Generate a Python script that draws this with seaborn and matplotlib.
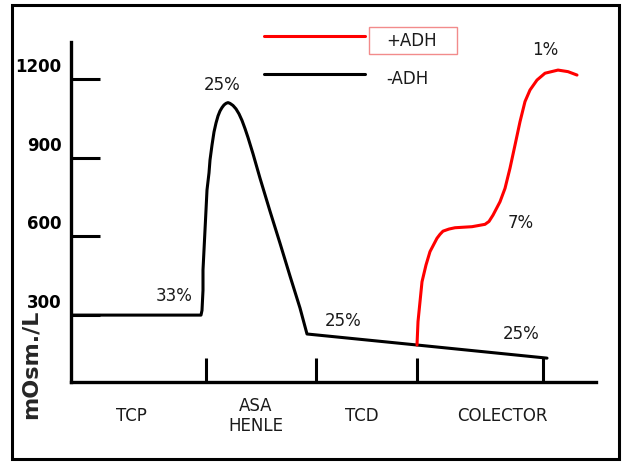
import matplotlib.pyplot as plt
import seaborn as sns
from matplotlib.patches import Rectangle
from matplotlib.transforms import ScaledTranslation

# osmolarity (mOsm/L) along the nephron, x = position along the tubule
minus_adh_x = [0, 130, 131, 132, 132, 133, 134, 135, 136, 138, 139, 141, 143,
               145, 147, 149, 151, 153, 155, 157, 159, 162, 165, 168, 171,
               174, 177, 182, 189, 199, 209, 219, 229, 236, 346, 476]
minus_adh_y = [300, 300, 318, 395, 472, 548, 624, 700, 777, 842, 891, 948, 998,
               1032, 1059, 1078, 1091, 1101, 1107, 1110, 1107, 1099, 1086, 1067,
               1042, 1011, 977, 915, 822, 696, 574, 449, 327, 228, 186, 136]

plus_adh_x = [346, 347, 349, 351, 355, 359, 366, 369, 372, 378, 384, 401, 414,
              418, 422, 429, 434, 439, 444, 449, 454, 459, 466, 474, 487, 497,
              506]
plus_adh_y = [186, 275, 351, 427, 491, 542, 593, 608, 620, 628, 633, 637, 646,
              657, 681, 732, 783, 860, 948, 1037, 1114, 1158, 1196, 1222, 1234,
              1228, 1215]

segment_edges = [135, 245, 346, 472]
segment_centers = [60, 185, 291, 431]
segment_names = ["TCP", "ASA\nHENLE", "TCD", "COLECTOR"]
osm_ticks = [300, 600, 900, 1200]

# percentage of filtered water still in the tubule
pct_labels = ["33%", "25%", "25%", "25%", "7%", "1%"]
pct_x = [103, 151, 272, 450, 450, 474]
pct_y = [373, 1177, 278, 228, 651, 1311]

sns.set_style("white")
plt.rcParams["font.family"] = ["DejaVu Sans"]

fig = plt.figure(figsize=(6.24, 4.62), dpi=100)
ax = fig.add_axes([71 / 624, 1 - 382 / 462, 525 / 624, 340 / 462])

sns.lineplot(x=minus_adh_x, y=minus_adh_y, sort=False, estimator=None,
             color="black", lw=2.2, label="-ADH", ax=ax)
sns.lineplot(x=plus_adh_x, y=plus_adh_y, sort=False, estimator=None,
             color="#ff0000", lw=2.2, label="+ADH", ax=ax)
for line in ax.get_lines():
    line.set_solid_joinstyle("round")

ax.set_xlim(0, 525)
ax.set_ylim(45, 1341)

ax.spines[["top", "right"]].set_visible(False)
for side in ["left", "bottom"]:
    ax.spines[side].set_linewidth(2.4)
    ax.spines[side].set_color("black")

ax.set_yticks(osm_ticks)
ax.tick_params(axis="y", left=True, direction="in", length=21, width=2.2,
               pad=7, labelsize=12, colors="black")
shift = ScaledTranslation(0, 14 / 100, fig.dpi_scale_trans)
for lbl in ax.get_yticklabels():
    lbl.set_fontweight("bold")
    lbl.set_transform(lbl.get_transform() + shift)

ax.set_xticks(segment_edges)
ax.set_xticklabels([])
ax.tick_params(axis="x", which="major", bottom=True, direction="in",
               length=17, width=2.2, colors="black")
ax.set_xticks(segment_centers, labels=segment_names, minor=True)
ax.tick_params(axis="x", which="minor", bottom=True, length=0, pad=24.5,
               labelsize=12, labelcolor="#1a1a1a")
for lbl in ax.get_xticklabels(minor=True):
    lbl.set_va("center")

ax.set_xlabel("")
ax.set_ylabel("mOsm./L", fontsize=16, fontweight="bold", va="center")
ax.yaxis.set_label_coords(-0.0762, 0.053)

for txt, x, y in zip(pct_labels, pct_x, pct_y):
    ax.text(x, y, txt, ha="center", va="center", fontsize=12, color="#1a1a1a")

handles, labels = ax.get_legend_handles_labels()
leg = ax.legend(handles[::-1], labels[::-1], loc="upper left",
                bbox_to_anchor=(264 / 624, 1 - 28 / 462),
                bbox_transform=fig.transFigure, frameon=False, fontsize=12,
                handlelength=6.05, handletextpad=1.3, labelspacing=1.2,
                borderpad=0, borderaxespad=0)
down = ScaledTranslation(0, -4 / 100, fig.dpi_scale_trans)
for t in leg.get_texts():
    t.set_color("#1a1a1a")
    t.set_transform(t.get_transform() + down)

# box around the +ADH label and the frame around the whole figure
fig.add_artist(Rectangle((369 / 624, 1 - 54 / 462), 88 / 624, 27 / 462,
                         transform=fig.transFigure, fill=False,
                         ec="#f28b8b", lw=1))
fig.add_artist(Rectangle((12 / 624, 1 - 459 / 462), 607 / 624, 454 / 462,
                         transform=fig.transFigure, fill=False,
                         ec="black", lw=2.2))

fig.savefig("out.png", dpi=100)
